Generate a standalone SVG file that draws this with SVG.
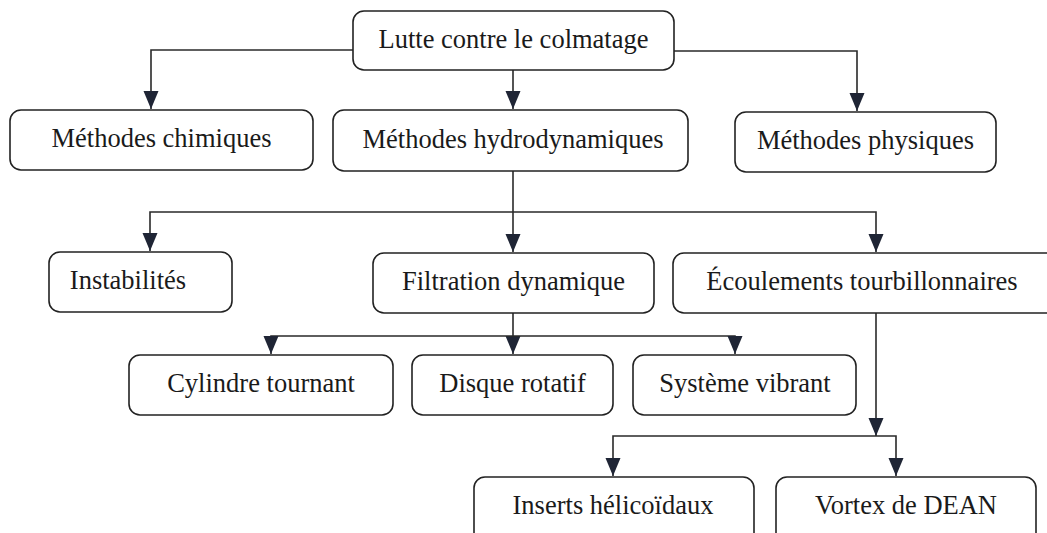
<svg xmlns="http://www.w3.org/2000/svg" width="1047" height="533" viewBox="0 0 1047 533">
<style>
.box{fill:#fff;stroke:#222;stroke-width:1.6}
.lbl{font-family:"Liberation Serif","Times New Roman",serif;font-size:26.5px;fill:#1a1a1a;text-anchor:middle}
.conn{fill:none;stroke:#2a2a2a;stroke-width:1.6}
</style>
<defs>
<marker id="ah" markerUnits="userSpaceOnUse" markerWidth="18" markerHeight="16" viewBox="0 0 18 16" refX="18" refY="8" orient="auto">
<path d="M0,0.5 L18,8 L0,15.5 Z" fill="#1f2535"/>
</marker>
</defs>
<rect width="1047" height="533" fill="#fff"/>
<g id="edges">
<path class="conn" d="M353,50 H151 V109" marker-end="url(#ah)"/>
<path class="conn" d="M513,70 V109" marker-end="url(#ah)"/>
<path class="conn" d="M674,51 H857 V111" marker-end="url(#ah)"/>
<path class="conn" d="M513,171 V252" marker-end="url(#ah)"/>
<path class="conn" d="M513,212 H150 V251" marker-end="url(#ah)"/>
<path class="conn" d="M513,212 H876 V252" marker-end="url(#ah)"/>
<path class="conn" d="M513,313 V354" marker-end="url(#ah)"/>
<path class="conn" d="M513,336 H271 V354" marker-end="url(#ah)"/>
<path class="conn" d="M513,336 H735 V354" marker-end="url(#ah)"/>
<path class="conn" d="M876,313 V436" marker-end="url(#ah)"/>
<path class="conn" d="M876,436 H613 V476" marker-end="url(#ah)"/>
<path class="conn" d="M876,436 H896 V476" marker-end="url(#ah)"/>
</g>
<g id="n-top"><rect class="box" x="353" y="11" width="321" height="59" rx="11"/><text class="lbl" x="513.5" y="48">Lutte contre le colmatage</text></g>
<g id="n-chim"><rect class="box" x="10" y="110" width="303" height="60" rx="11"/><text class="lbl" x="161.5" y="147">Méthodes chimiques</text></g>
<g id="n-hydro"><rect class="box" x="333" y="110" width="355" height="61" rx="11"/><text class="lbl" x="513" y="148">Méthodes hydrodynamiques</text></g>
<g id="n-phys"><rect class="box" x="735" y="112" width="261" height="60" rx="11"/><text class="lbl" x="865.5" y="149">Méthodes physiques</text></g>
<g id="n-instab"><rect class="box" x="49" y="252" width="183" height="60" rx="11"/><text class="lbl" x="128" y="289">Instabilités</text></g>
<g id="n-filt"><rect class="box" x="373" y="253" width="281" height="60" rx="11"/><text class="lbl" x="513.5" y="290">Filtration dynamique</text></g>
<g id="n-ecoul"><rect class="box" x="673" y="253" width="390" height="60" rx="11"/><text class="lbl" x="862" y="290">Écoulements tourbillonnaires</text></g>
<g id="n-cyl"><rect class="box" x="129" y="355" width="264" height="60" rx="11"/><text class="lbl" x="261" y="392">Cylindre tournant</text></g>
<g id="n-disque"><rect class="box" x="412" y="355" width="201" height="60" rx="11"/><text class="lbl" x="512.5" y="392">Disque rotatif</text></g>
<g id="n-syst"><rect class="box" x="633" y="355" width="223" height="60" rx="11"/><text class="lbl" x="745" y="392">Système vibrant</text></g>
<g id="n-inserts"><rect class="box" x="474" y="477" width="280" height="70" rx="11"/><text class="lbl" x="613" y="514">Inserts hélicoïdaux</text></g>
<g id="n-vortex"><rect class="box" x="776" y="477" width="260" height="70" rx="11"/><text class="lbl" x="906" y="514">Vortex de DEAN</text></g>
</svg>
